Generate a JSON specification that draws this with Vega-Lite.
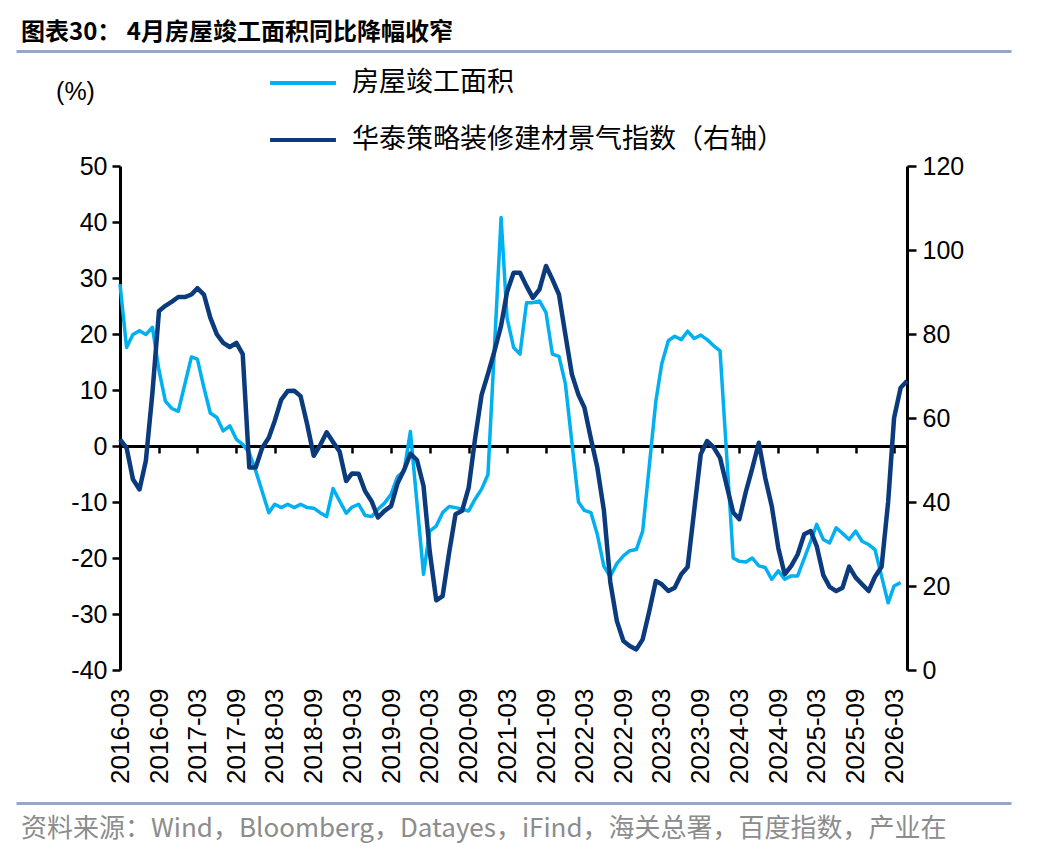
{
  "$schema": "https://vega.github.io/schema/vega-lite/v6.json",
  "padding": {"left": 16, "top": 21, "right": 5, "bottom": 5},
  "bounds": "flush",
  "center": true,
  "spacing": 115,
  "config": {"view": {"stroke": null}, "font": "Liberation Sans"},
  "datasets": {
    "completion": [
      {"month": "2016-03", "yoy": 28.9}, {"month": "2016-04", "yoy": 17.6}, {"month": "2016-05", "yoy": 19.9},
      {"month": "2016-06", "yoy": 20.6}, {"month": "2016-07", "yoy": 19.9}, {"month": "2016-08", "yoy": 21.2},
      {"month": "2016-09", "yoy": 13.5}, {"month": "2016-10", "yoy": 8.0}, {"month": "2016-11", "yoy": 6.7},
      {"month": "2016-12", "yoy": 6.2},
      {"month": "2017-02", "yoy": 15.9}, {"month": "2017-03", "yoy": 15.5}, {"month": "2017-04", "yoy": 10.4},
      {"month": "2017-05", "yoy": 5.9}, {"month": "2017-06", "yoy": 5.1}, {"month": "2017-07", "yoy": 2.7},
      {"month": "2017-08", "yoy": 3.6}, {"month": "2017-09", "yoy": 1.2}, {"month": "2017-10", "yoy": 0.3},
      {"month": "2017-11", "yoy": -1.2}, {"month": "2017-12", "yoy": -4.4},
      {"month": "2018-02", "yoy": -11.9}, {"month": "2018-03", "yoy": -10.4}, {"month": "2018-04", "yoy": -11.0},
      {"month": "2018-05", "yoy": -10.4}, {"month": "2018-06", "yoy": -11.0}, {"month": "2018-07", "yoy": -10.4},
      {"month": "2018-08", "yoy": -11.0}, {"month": "2018-09", "yoy": -11.1}, {"month": "2018-10", "yoy": -11.9},
      {"month": "2018-11", "yoy": -12.6}, {"month": "2018-12", "yoy": -7.6},
      {"month": "2019-02", "yoy": -12.0}, {"month": "2019-03", "yoy": -10.9}, {"month": "2019-04", "yoy": -10.4},
      {"month": "2019-05", "yoy": -12.4}, {"month": "2019-06", "yoy": -12.6}, {"month": "2019-07", "yoy": -11.3},
      {"month": "2019-08", "yoy": -10.2}, {"month": "2019-09", "yoy": -8.6}, {"month": "2019-10", "yoy": -5.5},
      {"month": "2019-11", "yoy": -4.5}, {"month": "2019-12", "yoy": 2.6},
      {"month": "2020-02", "yoy": -22.9}, {"month": "2020-03", "yoy": -15.2}, {"month": "2020-04", "yoy": -14.3},
      {"month": "2020-05", "yoy": -11.9}, {"month": "2020-06", "yoy": -10.8}, {"month": "2020-07", "yoy": -11.0},
      {"month": "2020-08", "yoy": -11.3}, {"month": "2020-09", "yoy": -11.6}, {"month": "2020-10", "yoy": -9.5},
      {"month": "2020-11", "yoy": -7.7}, {"month": "2020-12", "yoy": -5.1},
      {"month": "2021-02", "yoy": 40.8}, {"month": "2021-03", "yoy": 22.9}, {"month": "2021-04", "yoy": 17.6},
      {"month": "2021-05", "yoy": 16.4}, {"month": "2021-06", "yoy": 25.6}, {"month": "2021-07", "yoy": 25.6},
      {"month": "2021-08", "yoy": 25.9}, {"month": "2021-09", "yoy": 23.8}, {"month": "2021-10", "yoy": 16.4},
      {"month": "2021-11", "yoy": 16.0}, {"month": "2021-12", "yoy": 11.2},
      {"month": "2022-02", "yoy": -10.0}, {"month": "2022-03", "yoy": -11.5}, {"month": "2022-04", "yoy": -11.9},
      {"month": "2022-05", "yoy": -15.8}, {"month": "2022-06", "yoy": -21.5}, {"month": "2022-07", "yoy": -23.3},
      {"month": "2022-08", "yoy": -21.0}, {"month": "2022-09", "yoy": -19.6}, {"month": "2022-10", "yoy": -18.7},
      {"month": "2022-11", "yoy": -18.5}, {"month": "2022-12", "yoy": -15.2},
      {"month": "2023-02", "yoy": 8.0}, {"month": "2023-03", "yoy": 14.7}, {"month": "2023-04", "yoy": 18.8},
      {"month": "2023-05", "yoy": 19.6}, {"month": "2023-06", "yoy": 19.0}, {"month": "2023-07", "yoy": 20.5},
      {"month": "2023-08", "yoy": 19.2}, {"month": "2023-09", "yoy": 19.8}, {"month": "2023-10", "yoy": 19.0},
      {"month": "2023-11", "yoy": 17.9}, {"month": "2023-12", "yoy": 17.0},
      {"month": "2024-02", "yoy": -20.0}, {"month": "2024-03", "yoy": -20.6}, {"month": "2024-04", "yoy": -20.7},
      {"month": "2024-05", "yoy": -20.0}, {"month": "2024-06", "yoy": -21.4}, {"month": "2024-07", "yoy": -21.7},
      {"month": "2024-08", "yoy": -23.8}, {"month": "2024-09", "yoy": -22.3}, {"month": "2024-10", "yoy": -23.8},
      {"month": "2024-11", "yoy": -23.2}, {"month": "2024-12", "yoy": -23.2},
      {"month": "2025-02", "yoy": -17.0}, {"month": "2025-03", "yoy": -14.0}, {"month": "2025-04", "yoy": -16.7},
      {"month": "2025-05", "yoy": -17.3}, {"month": "2025-06", "yoy": -14.6}, {"month": "2025-07", "yoy": -15.6},
      {"month": "2025-08", "yoy": -16.7}, {"month": "2025-09", "yoy": -15.2}, {"month": "2025-10", "yoy": -17.0},
      {"month": "2025-11", "yoy": -17.6}, {"month": "2025-12", "yoy": -18.5},
      {"month": "2026-02", "yoy": -28.0}, {"month": "2026-03", "yoy": -25.0}, {"month": "2026-04", "yoy": -24.4}
    ],
    "index": [
      {"month": "2016-03", "index": 54.9}, {"month": "2016-04", "index": 52.9}, {"month": "2016-05", "index": 45.4},
      {"month": "2016-06", "index": 43.0}, {"month": "2016-07", "index": 49.8}, {"month": "2016-08", "index": 66.0},
      {"month": "2016-09", "index": 85.5}, {"month": "2016-10", "index": 86.7}, {"month": "2016-11", "index": 87.7},
      {"month": "2016-12", "index": 88.8}, {"month": "2017-01", "index": 88.8}, {"month": "2017-02", "index": 89.4},
      {"month": "2017-03", "index": 90.9}, {"month": "2017-04", "index": 89.4}, {"month": "2017-05", "index": 83.9},
      {"month": "2017-06", "index": 79.9}, {"month": "2017-07", "index": 77.9}, {"month": "2017-08", "index": 76.9},
      {"month": "2017-09", "index": 77.9}, {"month": "2017-10", "index": 75.2}, {"month": "2017-11", "index": 48.2},
      {"month": "2017-12", "index": 48.2}, {"month": "2018-01", "index": 52.9}, {"month": "2018-02", "index": 55.3},
      {"month": "2018-03", "index": 59.3}, {"month": "2018-04", "index": 64.4}, {"month": "2018-05", "index": 66.4},
      {"month": "2018-06", "index": 66.5}, {"month": "2018-07", "index": 65.2}, {"month": "2018-08", "index": 58.5},
      {"month": "2018-09", "index": 51.0}, {"month": "2018-10", "index": 53.5}, {"month": "2018-11", "index": 56.6},
      {"month": "2018-12", "index": 54.3}, {"month": "2019-01", "index": 52.0}, {"month": "2019-02", "index": 45.0},
      {"month": "2019-03", "index": 46.8}, {"month": "2019-04", "index": 46.7}, {"month": "2019-05", "index": 42.6},
      {"month": "2019-06", "index": 40.2}, {"month": "2019-07", "index": 36.3}, {"month": "2019-08", "index": 37.9},
      {"month": "2019-09", "index": 39.0}, {"month": "2019-10", "index": 44.4}, {"month": "2019-11", "index": 47.6},
      {"month": "2019-12", "index": 51.5}, {"month": "2020-01", "index": 50.0}, {"month": "2020-02", "index": 43.8},
      {"month": "2020-03", "index": 28.3}, {"month": "2020-04", "index": 16.6}, {"month": "2020-05", "index": 17.6},
      {"month": "2020-06", "index": 28.0}, {"month": "2020-07", "index": 37.1}, {"month": "2020-08", "index": 37.9},
      {"month": "2020-09", "index": 43.4}, {"month": "2020-10", "index": 55.0}, {"month": "2020-11", "index": 65.5},
      {"month": "2020-12", "index": 70.5}, {"month": "2021-01", "index": 76.0}, {"month": "2021-02", "index": 82.0},
      {"month": "2021-03", "index": 90.0}, {"month": "2021-04", "index": 94.6}, {"month": "2021-05", "index": 94.6},
      {"month": "2021-06", "index": 91.4}, {"month": "2021-07", "index": 88.6}, {"month": "2021-08", "index": 90.6},
      {"month": "2021-09", "index": 96.2}, {"month": "2021-10", "index": 93.0}, {"month": "2021-11", "index": 89.4},
      {"month": "2021-12", "index": 79.9}, {"month": "2022-01", "index": 70.4}, {"month": "2022-02", "index": 65.5},
      {"month": "2022-03", "index": 62.5}, {"month": "2022-04", "index": 55.0}, {"month": "2022-05", "index": 48.2},
      {"month": "2022-06", "index": 38.0}, {"month": "2022-07", "index": 21.0}, {"month": "2022-08", "index": 11.7},
      {"month": "2022-09", "index": 6.9}, {"month": "2022-10", "index": 5.7}, {"month": "2022-11", "index": 4.9},
      {"month": "2022-12", "index": 7.3}, {"month": "2023-01", "index": 14.0}, {"month": "2023-02", "index": 21.2},
      {"month": "2023-03", "index": 20.4}, {"month": "2023-04", "index": 18.8}, {"month": "2023-05", "index": 19.6},
      {"month": "2023-06", "index": 22.8}, {"month": "2023-07", "index": 24.5}, {"month": "2023-08", "index": 38.0},
      {"month": "2023-09", "index": 51.4}, {"month": "2023-10", "index": 54.5}, {"month": "2023-11", "index": 53.0},
      {"month": "2023-12", "index": 50.5}, {"month": "2024-01", "index": 44.0}, {"month": "2024-02", "index": 37.5},
      {"month": "2024-03", "index": 35.9}, {"month": "2024-04", "index": 42.5}, {"month": "2024-05", "index": 48.0},
      {"month": "2024-06", "index": 54.1}, {"month": "2024-07", "index": 45.8}, {"month": "2024-08", "index": 39.0},
      {"month": "2024-09", "index": 29.0}, {"month": "2024-10", "index": 22.8}, {"month": "2024-11", "index": 24.8},
      {"month": "2024-12", "index": 27.5}, {"month": "2025-01", "index": 32.3}, {"month": "2025-02", "index": 33.1},
      {"month": "2025-03", "index": 29.5}, {"month": "2025-04", "index": 22.6}, {"month": "2025-05", "index": 19.8},
      {"month": "2025-06", "index": 18.8}, {"month": "2025-07", "index": 19.6}, {"month": "2025-08", "index": 24.6},
      {"month": "2025-09", "index": 22.0}, {"month": "2025-10", "index": 20.4}, {"month": "2025-11", "index": 18.8},
      {"month": "2025-12", "index": 22.2}, {"month": "2026-01", "index": 24.6}, {"month": "2026-02", "index": 40.0},
      {"month": "2026-03", "index": 60.0}, {"month": "2026-04", "index": 67.2}, {"month": "2026-05", "index": 68.8}
    ]
  },
  "vconcat": [
    {
      "width": 995,
      "height": 1,
      "data": {"values": []},
      "mark": "tick",
      "encoding": {
        "x": {
          "field": "p", "type": "quantitative", "scale": {"domain": [0, 1]},
          "axis": {"orient": "bottom", "domainColor": "#93A9C6", "domainWidth": 3, "ticks": false, "labels": false, "grid": false, "title": null}
        }
      },
      "title": {
        "text": "图表30： 4月房屋竣工面积同比降幅收窄",
        "orient": "top", "anchor": "start", "frame": "group",
        "font": "Noto Sans CJK SC", "fontSize": 24, "fontWeight": "bold", "color": "#000000",
        "offset": 5, "dx": 5
      }
    },
    {
      "width": 787,
      "height": 504,
      "layer": [
        {
          "data": {"name": "completion"},
          "mark": {"type": "line", "strokeWidth": 3.5, "strokeJoin": "round"},
          "encoding": {
            "x": {
              "field": "month", "type": "temporal",
              "scale": {"type": "utc", "domain": [{"year": 2016, "month": 3, "date": 1, "utc": true}, {"year": 2026, "month": 5, "date": 1, "utc": true}]},
              "axis": {
                "orient": "bottom", "format": "%Y-%m", "labelAngle": 270, "labelFontSize": 26, "labelColor": "#000000",
                "labelPadding": 18, "labelFlush": false, "labelOverlap": false, "domain": false, "ticks": false, "tickSize": 0, "grid": false, "title": null,
                "values": [
                  {"year": 2016, "month": 3, "date": 1, "utc": true}, {"year": 2016, "month": 9, "date": 1, "utc": true},
                  {"year": 2017, "month": 3, "date": 1, "utc": true}, {"year": 2017, "month": 9, "date": 1, "utc": true},
                  {"year": 2018, "month": 3, "date": 1, "utc": true}, {"year": 2018, "month": 9, "date": 1, "utc": true},
                  {"year": 2019, "month": 3, "date": 1, "utc": true}, {"year": 2019, "month": 9, "date": 1, "utc": true},
                  {"year": 2020, "month": 3, "date": 1, "utc": true}, {"year": 2020, "month": 9, "date": 1, "utc": true},
                  {"year": 2021, "month": 3, "date": 1, "utc": true}, {"year": 2021, "month": 9, "date": 1, "utc": true},
                  {"year": 2022, "month": 3, "date": 1, "utc": true}, {"year": 2022, "month": 9, "date": 1, "utc": true},
                  {"year": 2023, "month": 3, "date": 1, "utc": true}, {"year": 2023, "month": 9, "date": 1, "utc": true},
                  {"year": 2024, "month": 3, "date": 1, "utc": true}, {"year": 2024, "month": 9, "date": 1, "utc": true},
                  {"year": 2025, "month": 3, "date": 1, "utc": true}, {"year": 2025, "month": 9, "date": 1, "utc": true},
                  {"year": 2026, "month": 3, "date": 1, "utc": true}
                ]
              }
            },
            "y": {
              "field": "yoy", "type": "quantitative",
              "scale": {"domain": [-40, 50], "nice": false, "zero": false},
              "axis": {
                "orient": "left", "values": [-40, -30, -20, -10, 0, 10, 20, 30, 40, 50], "labelExpr": "'' + datum.value",
                "labelFontSize": 25, "labelColor": "#000000", "labelPadding": 5,
                "domainColor": "#000000", "domainWidth": 3, "tickColor": "#000000", "tickWidth": 2.5, "tickSize": 8, "grid": false,
                "title": "(%)", "titleAngle": 0, "titleX": -45, "titleY": -75, "titleAlign": "center", "titleBaseline": "middle",
                "titleFontSize": 25, "titleFontWeight": "normal", "titleColor": "#000000"
              }
            },
            "color": {
              "datum": "房屋竣工面积", "type": "nominal",
              "scale": {"domain": ["房屋竣工面积", "华泰策略装修建材景气指数（右轴）"], "range": ["#00B0F0", "#0B3B7C"]},
              "legend": {
                "orient": "none", "legendX": 258, "legendY": 4, "title": null, "padding": 0, "rowPadding": 15,
                "symbolType": "M-1.22,0H1.22", "symbolSize": 2916, "symbolStrokeWidth": 4,
                "labelFont": "Noto Sans CJK SC", "labelFontSize": 27, "labelColor": "#000000", "labelOffset": 20, "labelLimit": 600
              }
            }
          }
        },
        {
          "data": {"name": "index"},
          "mark": {"type": "line", "strokeWidth": 4.5, "strokeJoin": "round"},
          "encoding": {
            "x": {
              "field": "month", "type": "temporal",
              "scale": {"type": "utc", "domain": [{"year": 2016, "month": 3, "date": 1, "utc": true}, {"year": 2026, "month": 5, "date": 1, "utc": true}]},
              "axis": {
                "orient": "bottom", "offset": -224, "labels": false, "domain": true, "domainColor": "#000000", "domainWidth": 3,
                "ticks": true, "tickColor": "#000000", "tickWidth": 2.5, "tickSize": 7, "grid": false, "title": null,
                "values": [
                  {"year": 2016, "month": 3, "date": 1, "utc": true}, {"year": 2016, "month": 9, "date": 1, "utc": true},
                  {"year": 2017, "month": 3, "date": 1, "utc": true}, {"year": 2017, "month": 9, "date": 1, "utc": true},
                  {"year": 2018, "month": 3, "date": 1, "utc": true}, {"year": 2018, "month": 9, "date": 1, "utc": true},
                  {"year": 2019, "month": 3, "date": 1, "utc": true}, {"year": 2019, "month": 9, "date": 1, "utc": true},
                  {"year": 2020, "month": 3, "date": 1, "utc": true}, {"year": 2020, "month": 9, "date": 1, "utc": true},
                  {"year": 2021, "month": 3, "date": 1, "utc": true}, {"year": 2021, "month": 9, "date": 1, "utc": true},
                  {"year": 2022, "month": 3, "date": 1, "utc": true}, {"year": 2022, "month": 9, "date": 1, "utc": true},
                  {"year": 2023, "month": 3, "date": 1, "utc": true}, {"year": 2023, "month": 9, "date": 1, "utc": true},
                  {"year": 2024, "month": 3, "date": 1, "utc": true}, {"year": 2024, "month": 9, "date": 1, "utc": true},
                  {"year": 2025, "month": 3, "date": 1, "utc": true}, {"year": 2025, "month": 9, "date": 1, "utc": true},
                  {"year": 2026, "month": 3, "date": 1, "utc": true}
                ]
              }
            },
            "y": {
              "field": "index", "type": "quantitative",
              "scale": {"domain": [0, 120], "nice": false},
              "axis": {
                "orient": "right", "values": [0, 20, 40, 60, 80, 100, 120],
                "labelFontSize": 25, "labelColor": "#000000", "labelPadding": 6,
                "domainColor": "#000000", "domainWidth": 3, "tickColor": "#000000", "tickWidth": 2.5, "tickSize": 9, "grid": false, "title": null
              }
            },
            "color": {"datum": "华泰策略装修建材景气指数（右轴）", "type": "nominal"}
          }
        }
      ],
      "resolve": {"scale": {"y": "independent"}, "axis": {"x": "independent", "y": "independent"}}
    },
    {
      "width": 995,
      "height": 18,
      "data": {"values": []},
      "mark": "tick",
      "encoding": {
        "x": {
          "field": "p", "type": "quantitative", "scale": {"domain": [0, 1]},
          "axis": {"orient": "bottom", "domainColor": "#93A9C6", "domainWidth": 3, "ticks": false, "labels": false, "grid": false, "title": null}
        }
      },
      "title": {
        "text": "资料来源：Wind，Bloomberg，Datayes，iFind，海关总署，百度指数，产业在",
        "orient": "bottom", "anchor": "start", "frame": "group",
        "font": "Noto Sans CJK SC", "fontSize": 26, "fontWeight": "normal", "color": "#8C8C8C",
        "offset": 13, "dx": 5
      }
    }
  ]
}
